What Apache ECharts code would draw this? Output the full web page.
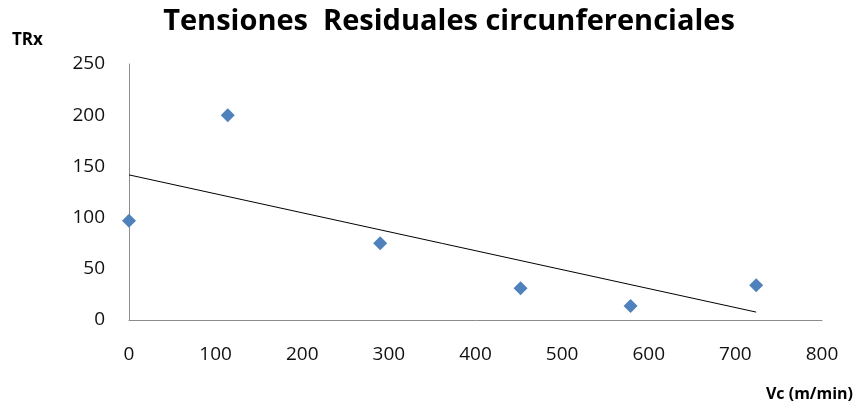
<!DOCTYPE html>
<html><head><meta charset="utf-8">
<script src="https://cdn.jsdelivr.net/npm/echarts@6/dist/echarts.min.js"></script>
<style>html,body{margin:0;padding:0;background:#fff}#c{width:856px;height:409px}</style>
</head><body><div id="c"></div>
<script>
var titleText = 'Tensiones  Residuales circunferenciales';
var yAxisName = 'TRx';
var xAxisName = 'Vc (m/min)';
var vcValues = [0, 114, 290, 452, 579, 724];
var trxValues = [97, 200, 75, 31, 13.7, 34];

// linear trend line (least squares) from the data
var n = vcValues.length, mx = 0, my = 0;
for (var i = 0; i < n; i++) { mx += vcValues[i]; my += trxValues[i]; }
mx /= n; my /= n;
var sxy = 0, sxx = 0;
for (var i = 0; i < n; i++) { sxy += (vcValues[i]-mx)*(trxValues[i]-my); sxx += (vcValues[i]-mx)*(vcValues[i]-mx); }
var slope = sxy / sxx, icpt = my - slope * mx;
var xMin = Math.min.apply(null, vcValues), xMax = Math.max.apply(null, vcValues);
var trend = [[xMin, icpt + slope * xMin], [xMax, icpt + slope * xMax]];

var chart = echarts.init(document.getElementById('c'), null, {renderer: 'canvas'});
var font = 'Open Sans';
chart.setOption({
  animation: false,
  title: {
    text: titleText, left: 444, top: 2, textAlign: 'center',
    textStyle: {fontFamily: font, fontWeight: 'bold', fontSize: 29, color: '#000'}
  },
  graphic: [
    {type: 'text', left: 12, top: 32, style: {text: yAxisName, font: 'bold 17px "Open Sans"', fill: '#000'}},
    {type: 'text', right: 3, top: 386, style: {text: xAxisName, font: 'bold 16px "Open Sans"', fill: '#000'}}
  ],
  grid: {left: 129, right: 34, top: 64, bottom: 89},
  xAxis: {
    type: 'value', min: 0, max: 800, interval: 100,
    axisLine: {show: true, lineStyle: {color: '#8c8c8c', width: 1}},
    axisTick: {show: false}, splitLine: {show: false},
    axisLabel: {fontFamily: font, fontSize: 19, color: '#111', margin: 25}
  },
  yAxis: {
    type: 'value', min: 0, max: 250, interval: 50,
    axisLine: {show: true, lineStyle: {color: '#8c8c8c', width: 1}},
    axisTick: {show: false}, splitLine: {show: false},
    axisLabel: {fontFamily: font, fontSize: 19, color: '#111', margin: 24}
  },
  series: [
    {
      type: 'line', data: trend, symbol: 'none', silent: true,
      lineStyle: {color: '#000', width: 1}, z: 1
    },
    {
      type: 'scatter', data: vcValues.map(function (v, i) { return [v, trxValues[i]]; }),
      symbol: 'diamond', symbolSize: [14, 14],
      itemStyle: {color: '#4F81BD', opacity: 1}, z: 2
    }
  ]
});
</script></body></html>
